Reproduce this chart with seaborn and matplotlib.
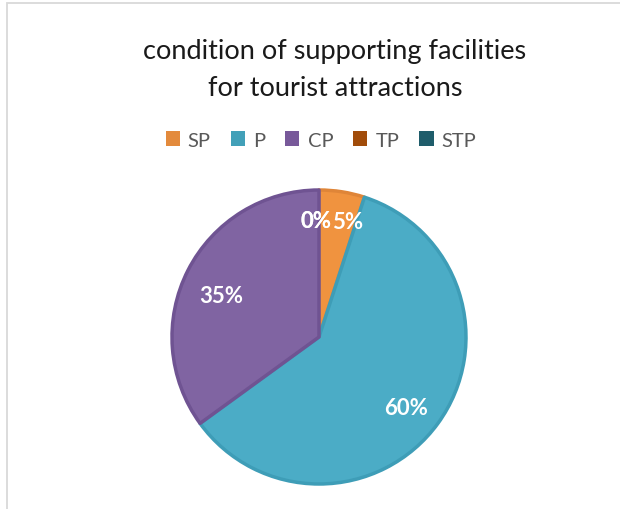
import matplotlib
matplotlib.use("Agg")
import matplotlib.pyplot as plt
from matplotlib.patches import Patch, Rectangle
import numpy as np
import seaborn as sns

# Data
categories = ["SP", "P", "CP", "TP", "STP"]
percentages = [5, 60, 35, 0, 0]
title_lines = ["condition of supporting facilities", "for tourist attractions"]

sns.set_theme(style="white")
plt.rcParams["font.family"] = ["Lato", "DejaVu Sans"]

face_colors = sns.color_palette(["#F0933F", "#4BACC6", "#8064A2", "#A5500E", "#215F6C"])
edge_colors = sns.color_palette(["#DF8538", "#3E9DB7", "#6F5392", "#8F450C", "#1B505C"])
legend_colors = ["#E38A3C", "#42A0B8", "#78599A", "#A14C0A", "#1F5D6B"]

W, H = 620, 510
fig = plt.figure(figsize=(W / 100, H / 100), dpi=100)
fig.patch.set_facecolor("white")

# Chart-area frame (left and top edges visible)
fig.add_artist(Rectangle((7 / W, -0.1), 1.2, (H - 4) / H + 0.1,
                         transform=fig.transFigure, fill=False,
                         edgecolor="#D9D9D9", linewidth=1.3))

cx, cy, r, pad = 319, 338, 147, 4
ax = fig.add_axes([(cx - r - pad) / W, (H - cy - r - pad) / H,
                   2 * (r + pad) / W, 2 * (r + pad) / H])

wedges, _ = ax.pie(
    percentages,
    colors=face_colors,
    startangle=90,
    counterclock=False,
    wedgeprops=dict(linewidth=2.5),
)
for w, ec, pct in zip(wedges, edge_colors, percentages):
    w.set_edgecolor(ec)
    w.set_joinstyle("round")
    if pct == 0:
        w.set_linewidth(0)
lim = (r + pad) / r
ax.set_xlim(-lim, lim)
ax.set_ylim(-lim, lim)
ax.axis("off")

# Percentage labels inside the slices
angle_nudge = [-5, -3, 4, 0, 0]
label_radius = [0.81, 0.76, 0.72, 0.79, 0.79]
x_shift = [0.0, 0.0, 0.0, -0.02, -0.02]
for w, pct, dn, rr, xs in zip(wedges, percentages, angle_nudge, label_radius, x_shift):
    mid = np.deg2rad((w.theta1 + w.theta2) / 2 + dn)
    ax.text(rr * np.cos(mid) + xs, rr * np.sin(mid), f"{pct}%",
            ha="center", va="center", color="white",
            fontsize=16, fontweight="bold")

# Title
fig.text(335 / W, 1 - 52 / H, title_lines[0], ha="center", va="center",
         fontsize=19.5, color="#1A1A1A")
fig.text(335 / W, 1 - 88 / H, title_lines[1], ha="center", va="center",
         fontsize=19.5, color="#1A1A1A")

# Legend
handles = [Patch(facecolor=c, edgecolor="none", label=lab)
           for c, lab in zip(legend_colors, categories)]
leg = fig.legend(handles=handles, loc="center", bbox_to_anchor=(321 / W, 1 - 141 / H),
                 ncol=5, frameon=False, fontsize=14.5, handlelength=0.7,
                 handleheight=0.7, handletextpad=0.4, columnspacing=1.0,
                 borderaxespad=0)
for t in leg.get_texts():
    t.set_color("#595959")

fig.savefig("out.png", dpi=100, facecolor="white")
